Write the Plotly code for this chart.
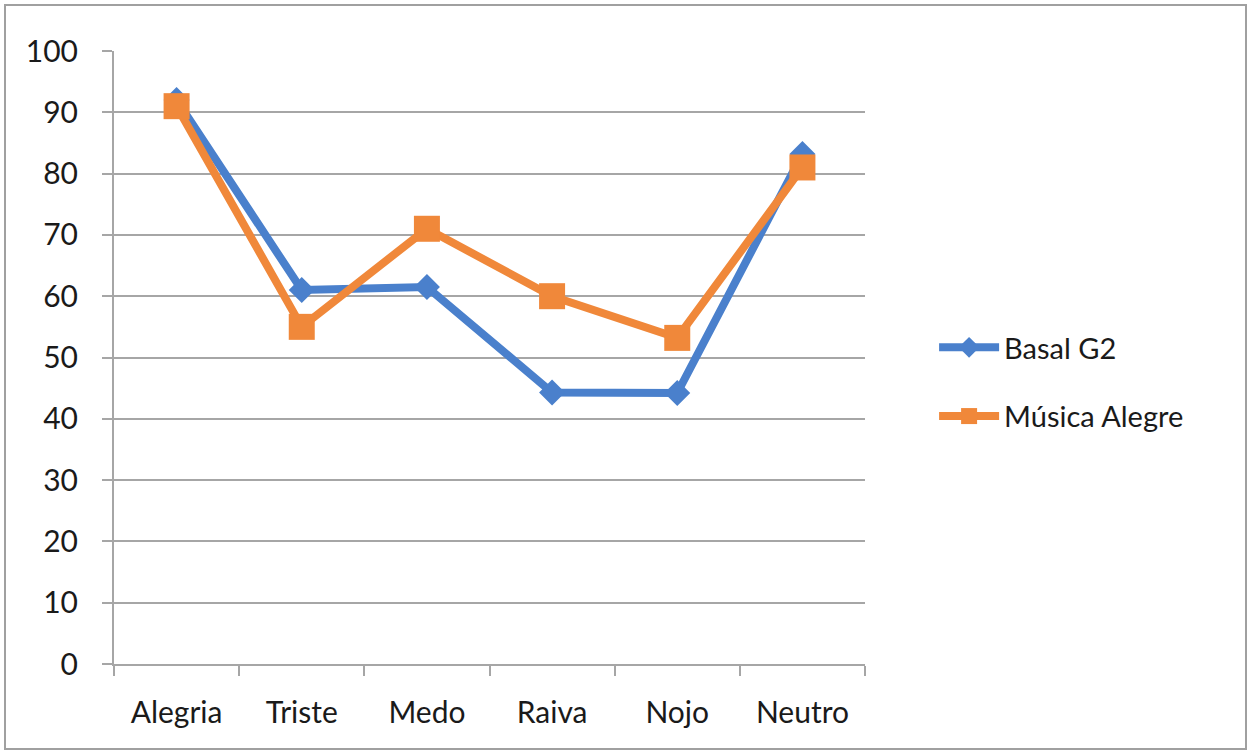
import plotly.graph_objects as go

categories = ["Alegria", "Triste", "Medo", "Raiva", "Nojo", "Neutro"]
basal_g2 = [92, 61, 61.5, 44.3, 44.2, 83.2]
musica_alegre = [91, 55, 71, 60, 53.2, 81]
y_ticks = [0, 10, 20, 30, 40, 50, 60, 70, 80, 90, 100]

BLUE = "#4a80cc"
ORANGE = "#f0883a"
GRID = "#a6a6a6"
FONT = "Lato"
FS = 30

fig = go.Figure()
fig.add_trace(go.Scatter(
    x=categories, y=basal_g2, name="Basal G2", mode="lines+markers",
    line=dict(color=BLUE, width=8),
    marker=dict(symbol="diamond", size=20, color=BLUE),
    legendgroup="a",
))
fig.add_trace(go.Scatter(
    x=categories, y=musica_alegre, name="Música Alegre", mode="lines+markers",
    line=dict(color=ORANGE, width=8),
    marker=dict(symbol="square", size=26, color=ORANGE),
    legendgroup="b",
))

fig.update_layout(
    width=1248, height=751,
    margin=dict(l=114, r=383, t=51, b=87),
    paper_bgcolor="white", plot_bgcolor="white",
    font=dict(family=FONT, size=FS, color="#1a1a1a"),
    showlegend=True,
    legend=dict(
        x=1.092, xanchor="left", y=0.46, yanchor="middle",
        font=dict(family=FONT, size=FS - 1, color="#1a1a1a"),
        traceorder="grouped", tracegroupgap=28,
        bgcolor="rgba(0,0,0,0)", itemwidth=60,
    ),
    shapes=[dict(
        type="rect", xref="paper", yref="paper",
        x0=(5 - 114) / 751, x1=(1246 - 114) / 751,
        y0=(664 - 749) / 613, y1=(664 - 5) / 613,
        line=dict(color="#a0a0a0", width=2),
        fillcolor="rgba(0,0,0,0)", layer="below",
    )],
)

fig.update_xaxes(
    type="category", categoryorder="array", categoryarray=categories,
    showgrid=False, showline=True, linecolor=GRID, linewidth=2,
    ticks="outside", tickson="boundaries", ticklen=10, tickwidth=2, tickcolor=GRID,
    ticklabelstandoff=21,
    tickfont=dict(family=FONT, size=FS, color="#1a1a1a"),
    range=[-0.5, 5.5], zeroline=False,
)
fig.update_yaxes(
    range=[0, 100], tickvals=y_ticks, ticktext=[str(v) for v in y_ticks],
    showgrid=True, gridcolor=GRID, gridwidth=2,
    showline=True, linecolor=GRID, linewidth=2,
    ticks="outside", ticklen=10, tickwidth=2, tickcolor=GRID,
    ticklabelstandoff=18,
    tickfont=dict(family=FONT, size=FS, color="#1a1a1a"),
    zeroline=False,
)

fig.write_html("out.html")
